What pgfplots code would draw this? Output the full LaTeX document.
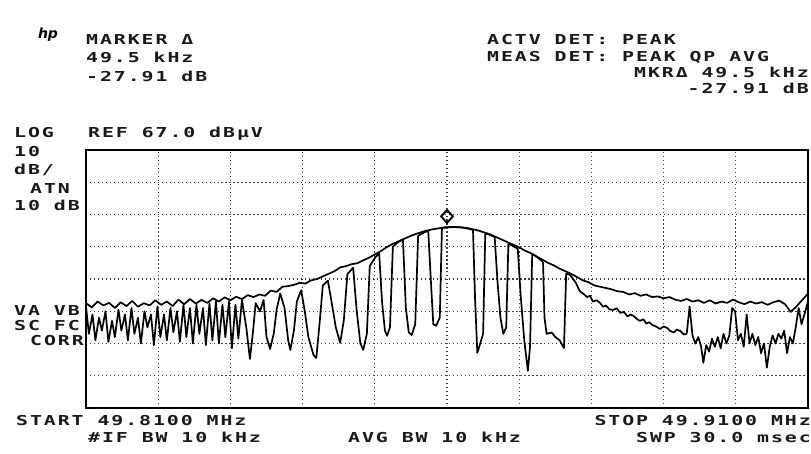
\documentclass[border=0pt]{standalone}
\usepackage{fontspec}
\usepackage{pgfplots}
\pgfplotsset{compat=1.18}
\newfontfamily\hpfont[FakeStretch=1.45,LetterSpace=14]{DejaVu Sans Mono Bold}
\newfontfamily\logofont{DejaVu Sans}
\newcommand\hpt{\hpfont\fontsize{13.7bp}{18bp}\selectfont}
\begin{document}
\begin{tikzpicture}[x=1bp,y=1bp]
\path[use as bounding box] (0,0) rectangle (811,454);
\begin{axis}[at={(86bp,46bp)}, anchor=south west, width=722bp, height=258bp, scale only axis,
  xmin=0, xmax=100, ymin=-13, ymax=67,
  xtick={10,20,...,90}, ytick={-3,7,...,57},
  xticklabels={}, yticklabels={}, major tick length=0pt,
  grid=major, grid style={black!75, line width=1.1pt, dash pattern=on 1.2pt off 2.8pt},
  axis line style={line width=1.8pt}, clip=true]
% trace A: peak envelope
\addplot[black, line width=1.7bp, line join=round] coordinates {
(0,19.5)(0.8,18.2)(1.6,20)(2.4,18.8)(3.2,19.6)(4,18)(4.8,19.8)(5.6,18.6)(6.4,20.2)(7.2,18.4)
(8,19.5)(8.8,18.8)(9.6,20.4)(10.4,19)(11.2,20)(12,18.6)(12.8,20.6)(13.6,19.2)(14.4,20.8)(15.2,19.4)
(16,20.5)(16.8,19.6)(17.6,21)(18.4,20)(19.2,21.3)(20,20.4)(20.8,21.5)(21.6,20.8)(22.4,22)(23.2,21.4)
(24,22.2)(24.8,21.8)(25.6,23.4)(26.4,23)(27.2,24.6)(28,24.8)(28.8,25.2)(29.6,25.8)(30.4,25.6)(31.2,26.6)
(32,27)(32.8,27.8)(33.6,28.6)(34.4,29.4)(35.2,30.6)(36,31)(36.8,31.6)(37.6,31.9)(38.4,32.8)(39.2,33.6)
(40,34.6)(40.8,35.6)(41.6,36.8)(42.4,37.8)(43.2,38.6)(44,39.4)(44.8,40.2)(45.6,40.9)(46.4,41.5)(47.2,42)
(48,42.4)(48.8,42.7)(49.6,43)(50.4,43.1)(51.2,43.1)(52,43)(52.8,42.8)(53.6,42.4)(54.4,42)(55.2,41.4)
(56,40.8)(56.8,40)(57.6,39.2)(58.4,38.4)(59.2,37.6)(60,36.8)(60.8,35.8)(61.6,35)(62.4,34)(63.2,33)
(64,32)(64.8,31.2)(65.6,30.2)(66.4,29.4)(67.2,28.6)(68,27.6)(68.8,26.6)(69.6,26)(70.4,25)(71.2,24.6)
(72,24.2)(72.8,23.8)(73.6,23.2)(74.4,23)(75.2,22.2)(76,22.6)(76.8,21.8)(77.6,22.2)(78.4,21.4)(79.2,21.6)
(80,21)(80.8,21.4)(81.6,20.6)(82.4,20.2)(83.2,20.8)(84,20)(84.8,20.4)(85.6,19.6)(86.4,20.4)(87.2,19.4)
(88,20)(88.8,19.6)(89.6,20.6)(90.4,19.8)(91.2,19.2)(92,20)(92.8,19.4)(93.6,19.8)(94.4,19)(95.2,19.8)
(96,20.3)(96.8,19.2)(97.6,16.8)(98.4,18.5)(99.2,20.5)(100,22.5)
};
% trace B: notched trace
\addplot[black, line width=1.7bp, line join=round] coordinates {
(0,18.5)(0.4,10)(0.9,16)(1.3,8)(1.8,15)(2.2,11)(2.7,17)(3.1,7.5)(3.6,14)(4,9)
(4.5,17.5)(4.9,11)(5.4,16)(5.8,8)(6.3,18)(6.7,10)(7.2,15)(7.6,7)(8.1,17)(8.5,12)
(9,16)(9.4,6.5)(9.9,18.5)(10.3,9)(10.8,16)(11.2,8)(11.7,18)(12.1,10.5)(12.6,17)(13,7.5)
(13.5,19)(13.9,9)(14.4,18)(14.8,7)(15.3,19)(15.7,10)(16.2,18)(16.6,6.5)(17.1,19.5)(17.5,8)
(18,20)(18.4,7)(18.9,19)(19.3,9)(19.8,20)(20.2,5.5)(20.7,19)(21.1,8.5)(21.6,20.5)
(22.2,12)(22.7,2.2)(23.1,10)(23.5,19.5)(24.1,17)(24.6,20.5)(25,9)(25.5,5.3)(26,10)(26.4,17.5)
(26.9,22.5)(27.5,18)(28,8)(28.3,5)(28.8,11)(29.2,20)(29.8,23.5)(30.3,17)(30.8,9)(31.5,3.5)
(31.9,2.5)(32.3,12)(32.8,25)(33.5,26.5)(34,20)(34.6,12)(35.2,7.2)(35.7,14)(36.2,28.5)(37,30.5)
(37.5,17)(38,7)(38.4,5)(38.9,10)(39.3,31)(40,33.5)(40.6,35)(41,20)(41.4,11)(41.7,9.4)
(42.1,12)(42.5,37)(43.2,38.4)(43.9,39.2)(44.3,18)(44.7,10.5)(45.1,9.6)(45.6,13)(46,40.4)(46.8,41.4)
(47.4,42)(47.8,25)(48.1,13)(48.5,12.5)(49,15)(49.3,42.8)(50,43)(51,43.1)(52,43)(53,42.6)
(53.6,42.2)(53.9,20)(54.2,4.1)(54.6,7)(55,10)(55.3,41.2)(56,40.6)(56.6,40)(57,26)(57.4,15)
(57.8,10)(58.2,12)(58.5,38)(59.3,37)(59.8,36.4)(60.2,22)(60.7,8)(61.2,-1.5)(61.5,6)(61.8,34.8)
(62.5,33.8)(63.3,32.2)(63.5,15)(63.8,10)(64.5,10.4)(65,9)(65.6,8)(66.2,5.6)(66.5,28.6)(67,28.4)
(67.8,26)(68.4,23.2)(68.9,22.4)(69.4,21.4)(69.8,21.8)(70.2,20)(70.7,20.4)(71.2,19.6)(71.6,18.4)(72,18.8)
(72.5,17.6)(73,17.4)(73.5,17.9)(74,16.5)(74.5,16.8)(75,15.4)(75.4,16)(75.8,15.6)(76.3,14.6)(76.7,14)
(77.2,14.5)(77.6,13.2)(78,13.6)(78.4,12.8)(79,12.2)(79.5,11.5)(80,12.3)(80.5,11.8)(80.9,10.9)(81.4,10.4)
(81.8,11.3)(82.3,10.9)(82.8,9.8)(83.2,10)(83.6,18.5)(84,9.5)(84.4,7)(84.8,9)(85.2,6)(85.5,1)
(85.9,6.5)(86.3,4.5)(86.7,8.5)(87.1,6)(87.5,9)(87.9,5.5)(88.3,10)(88.7,7)(89.1,9.5)(89.5,18)
(89.9,17)(90.3,8)(90.7,10)(91.1,6)(91.5,16)(91.9,7)(92.3,10)(92.7,6.5)(93.1,9)(93.5,4)
(93.9,7)(94.3,-0.5)(94.7,6)(95.1,9.5)(95.5,7)(95.9,10)(96.3,8.5)(96.7,11)(97.1,4)(97.5,9)
(97.9,7)(98.3,12)(98.7,18)(99.1,13)(99.5,16)(100,20)
};
% marker
\addplot[only marks, mark=diamond, mark size=6.5bp, mark options={line width=1.9bp, fill=white, xscale=1.2}] coordinates {(50,46.4)};
\end{axis}
\node[anchor=center, inner sep=0] at (48,419) {\logofont\bfseries\itshape\fontsize{14bp}{14bp}\selectfont hp};
\begin{scope}[every node/.style={inner sep=0, text=black!90, font=\hpt}]
\node[anchor=base west] at (86,409) {MARKER Δ};
\node[anchor=base west] at (86,391) {49.5 kHz};
\node[anchor=base west] at (86,372) {-27.91 dB};
\node[anchor=base west] at (487,409) {ACTV DET: PEAK};
\node[anchor=base west] at (487,392) {MEAS DET: PEAK QP AVG};
\node[anchor=base east] at (809,376) {MKRΔ 49.5 kHz};
\node[anchor=base east] at (809,360) {-27.91 dB};
\node[anchor=base west] at (14,316) {LOG};
\node[anchor=base west] at (88,316) {REF 67.0 dBμV};
\node[anchor=base west] at (14,297) {10};
\node[anchor=base west] at (14,279) {dB/};
\node[anchor=base west] at (30,260) {ATN};
\node[anchor=base west] at (14,243) {10 dB};
\node[anchor=base west] at (14,138) {VA VB};
\node[anchor=base west] at (14,123) {SC FC};
\node[anchor=base west] at (30,108) {CORR};
\node[anchor=base west] at (16,28) {START 49.8100 MHz};
\node[anchor=base west] at (88,11) {\#IF BW 10 kHz};
\node[anchor=base west] at (348,11) {AVG BW 10 kHz};
\node[anchor=base east] at (811,28) {STOP 49.9100 MHz};
\node[anchor=base east] at (811,11) {SWP 30.0 msec};
\end{scope}
\end{tikzpicture}
\end{document}
